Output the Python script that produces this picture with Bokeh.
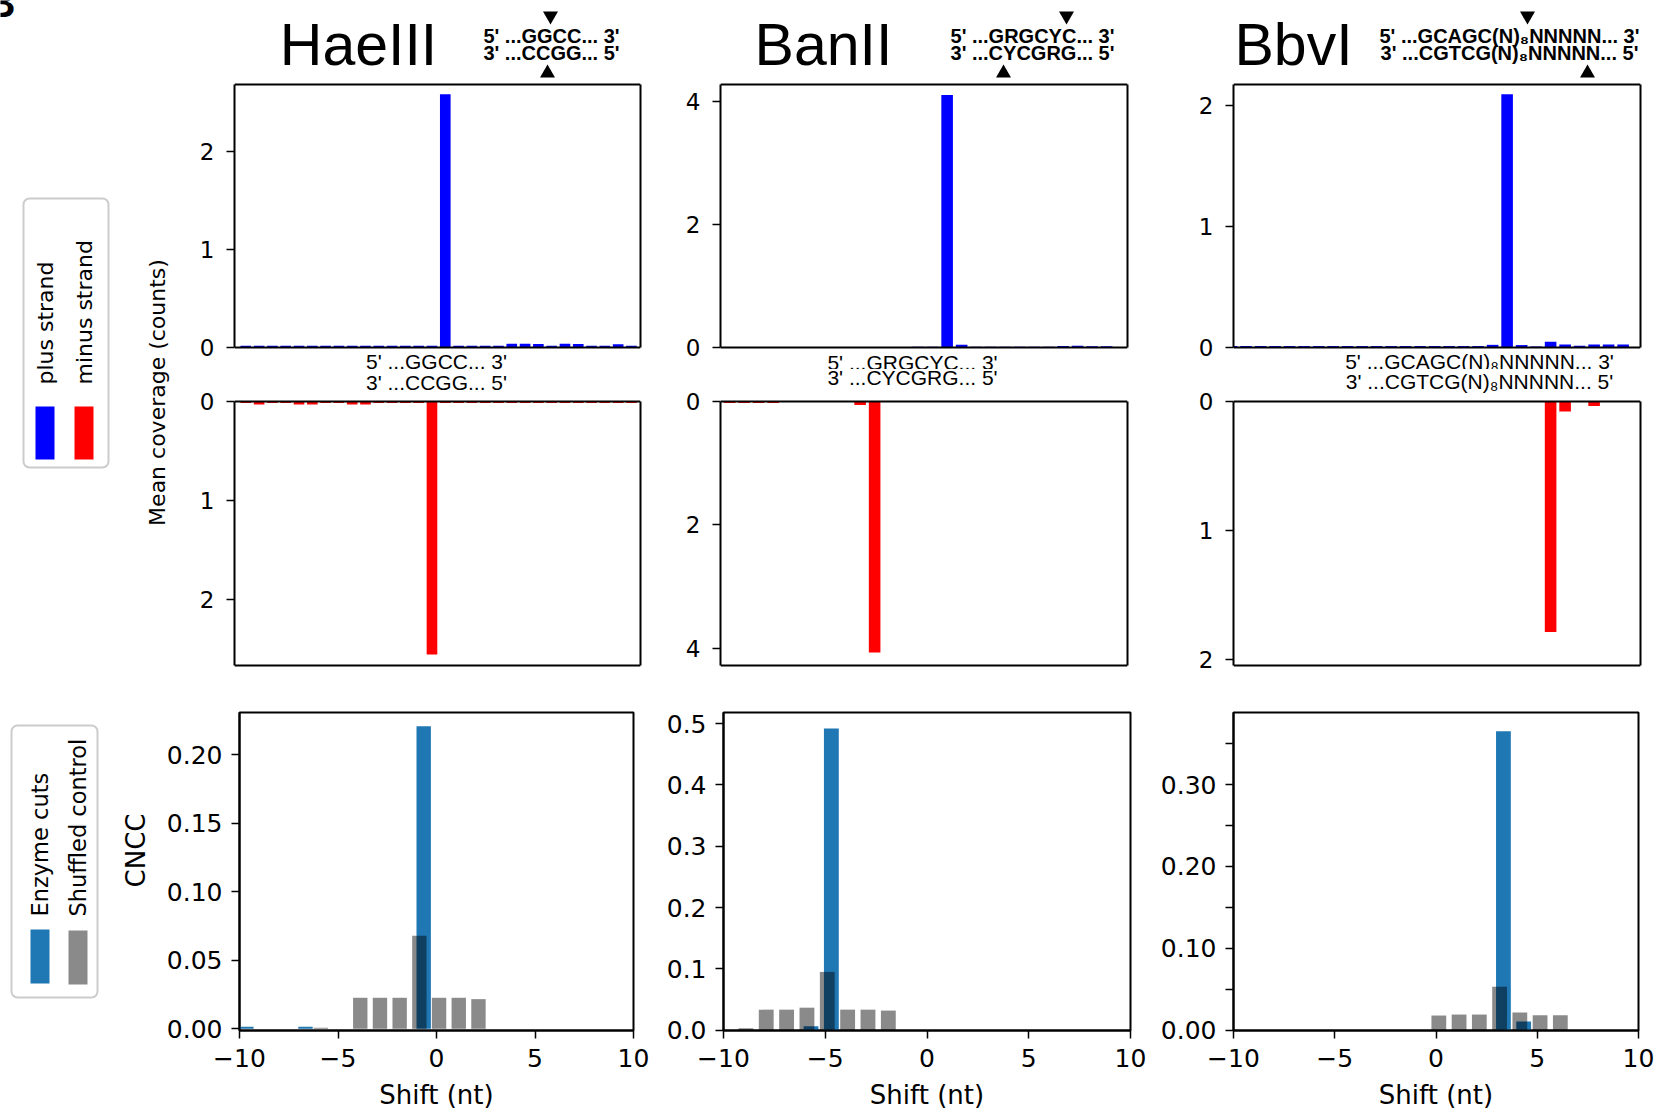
import math
from bokeh.plotting import figure
from bokeh.models import (Range1d, FixedTicker, Label, BoxAnnotation, PolyAnnotation,
                          Span, LinearAxis)
from bokeh.layouts import row, column
from bokeh.embed import file_html
from bokeh.resources import INLINE

# ---------------- data ----------------
enzymes = ["HaeIII", "BanII", "BbvI"]
site_top = ["5' ...GGCC... 3'", "5' ...GRGCYC... 3'", "5' ...GCAGC(N)\u2088NNNNN... 3'"]
site_bot = ["3' ...CCGG... 5'", "3' ...CYCGRG... 5'", "3' ...CGTCG(N)\u2088NNNNN... 5'"]

hae_pos = list(range(30))
hae_plus = [0.018, 0.018, 0.018, 0.018, 0.018, 0.018, 0.018, 0.018, 0.018, 0.018,
            0.018, 0.018, 0.018, 0.018, 0.018, 2.59, 0.018, 0.018, 0.018, 0.018,
            0.038, 0.038, 0.035, 0.018, 0.038, 0.035, 0.018, 0.018, 0.032, 0.018]
hae_minus = [0.016, 0.03, 0.016, 0.016, 0.03, 0.03, 0.016, 0.016, 0.03, 0.03,
             0.016, 0.016, 0.016, 0.016, 2.56, 0.016, 0.016, 0.016, 0.016, 0.016,
             0.016, 0.016, 0.016, 0.016, 0.016, 0.016, 0.016, 0.016, 0.016, 0.016]

ban_pos = list(range(28))
ban_plus = [0.0, 0.0, 0.0, 0.0, 0.0, 0.0, 0.0, 0.0, 0.0, 0.0,
            0.0, 0.0, 0.0, 0.012, 0.012, 4.10, 0.045, 0.012, 0.012, 0.012,
            0.012, 0.012, 0.012, 0.025, 0.028, 0.02, 0.02, 0.0]
ban_minus = [0.025, 0.025, 0.025, 0.025, 0.006, 0.006, 0.006, 0.006, 0.006, 0.055,
             4.07, 0.006, 0.006, 0.006, 0.006, 0.006, 0.006, 0.006, 0.006, 0.006,
             0.006, 0.006, 0.006, 0.006, 0.006, 0.006, 0.006, 0.0]

bbv_pos = list(range(28))
bbv_plus = [0.012, 0.012, 0.012, 0.012, 0.012, 0.012, 0.012, 0.012, 0.012, 0.012,
            0.012, 0.012, 0.012, 0.012, 0.012, 0.012, 0.012, 0.012, 0.022, 2.09,
            0.02, 0.008, 0.048, 0.025, 0.015, 0.025, 0.025, 0.025]
bbv_minus = [0.004, 0.004, 0.004, 0.004, 0.004, 0.004, 0.004, 0.004, 0.004, 0.004,
             0.004, 0.004, 0.004, 0.004, 0.004, 0.004, 0.004, 0.004, 0.004, 0.004,
             0.004, 0.004, 1.79, 0.078, 0.004, 0.034, 0.004, 0.004]

top_ticks = [[0, 1, 2], [0, 2, 4], [0, 1, 2]]

shift_ticks = [-10, -5, 0, 5, 10]
shift_labels = ["\u221210", "\u22125", "0", "5", "10"]
hae_cut_shift = [-9.65, -6.65, -0.65]
hae_cut_cncc = [0.0015, 0.0015, 0.221]
hae_ctrl_shift = [-5.87, -3.87, -2.87, -1.87, -0.87, 0.13, 1.13, 2.13]
hae_ctrl_cncc = [0.0008, 0.0227, 0.0227, 0.0227, 0.068, 0.0227, 0.0227, 0.0217]
ban_cut_shift = [-5.7, -4.7]
ban_cut_cncc = [0.0065, 0.492]
ban_ctrl_shift = [-8.9, -7.9, -6.9, -5.9, -4.9, -3.9, -2.9, -1.9]
ban_ctrl_cncc = [0.003, 0.0335, 0.0335, 0.0367, 0.095, 0.0335, 0.0335, 0.032]
bbv_cut_shift = [3.33, 4.33]
bbv_cut_cncc = [0.365, 0.0106]
bbv_ctrl_shift = [0.14, 1.14, 2.14, 3.14, 4.14, 5.14, 6.14]
bbv_ctrl_cncc = [0.0178, 0.019, 0.019, 0.053, 0.0215, 0.018, 0.018]

hae_cncc_ticks = [0.0, 0.05, 0.1, 0.15, 0.2]
hae_cncc_labels = ["0.00", "0.05", "0.10", "0.15", "0.20"]
ban_cncc_ticks = [0.0, 0.1, 0.2, 0.3, 0.4, 0.5]
ban_cncc_labels = ["0.0", "0.1", "0.2", "0.3", "0.4", "0.5"]
bbv_cncc_ticks = [0.0, 0.05, 0.1, 0.15, 0.2, 0.25, 0.3, 0.35]
bbv_cncc_labels = ["0.00", "", "0.10", "", "0.20", "", "0.30", ""]

legend_strand = ["plus strand", "minus strand"]
legend_cncc = ["Enzyme cuts", "Shuffled control"]

PLUS = "#0000ff"
MINUS = "#ff0000"
CUT = "#1f77b4"


# ---------------- geometry helpers ----------------
class Geo:
    def __init__(self, x0, y0, w, h, bl, br, bt, bb, xr, yr):
        self.x0, self.y0, self.w, self.h = x0, y0, w, h
        self.bl, self.br, self.bt, self.bb = bl, br, bt, bb
        self.xr, self.yr = xr, yr

    def X(self, px):
        fw = self.w - self.bl - self.br
        return self.xr[0] + (px - self.x0 - self.bl) / fw * (self.xr[1] - self.xr[0])

    def Y(self, py):
        fh = self.h - self.bt - self.bb
        ftop = self.y0 + self.bt
        return self.yr[1] - (py - ftop) / fh * (self.yr[1] - self.yr[0])


def base_fig(g, xaxis=True, yaxis=True):
    p = figure(width=g.w, height=g.h, x_range=Range1d(*g.xr), y_range=Range1d(*g.yr),
               min_border_left=g.bl, min_border_right=g.br,
               min_border_top=g.bt, min_border_bottom=g.bb,
               x_axis_location="below" if xaxis else None,
               y_axis_location="left" if yaxis else None,
               output_backend="svg", toolbar_location=None, tools="")
    try:
        p.frame_align = False
    except Exception:
        pass
    if p.title is not None:
        p.title.visible = False
    p.grid.visible = False
    p.background_fill_color = "white"
    p.border_fill_color = "white"
    return p


def style_axis(ax, size, tick_out, standoff):
    ax.axis_line_color = "black"
    ax.axis_line_width = 2
    ax.major_tick_line_color = "black"
    ax.major_tick_line_width = 1.5
    ax.major_tick_in = 0
    ax.major_tick_out = tick_out
    ax.minor_tick_line_color = None
    ax.major_label_text_font = "DejaVu Sans"
    ax.major_label_text_font_size = size
    ax.major_label_text_color = "black"
    ax.major_label_standoff = standoff


def outline(p):
    p.outline_line_color = "black"
    p.outline_line_width = 2
    p.outline_line_alpha = 1


def text(p, g, X, Y, s, size, font="DejaVu Sans", style="normal", align="center",
         baseline="middle", angle=0.0):
    p.add_layout(Label(x=g.X(X), y=g.Y(Y), text=s, text_font=font,
                       text_font_size=f"{size}px", text_font_style=style,
                       text_align=align, text_baseline=baseline, angle=angle,
                       text_color="black"))


def tri(p, g, cx, y_top, y_bot, down):
    hw = 7.5
    if down:
        pts = [(cx - hw, y_top), (cx + hw, y_top), (cx, y_bot)]
    else:
        pts = [(cx, y_top), (cx + hw, y_bot), (cx - hw, y_bot)]
    p.add_layout(PolyAnnotation(xs=[g.X(a) for a, b in pts], ys=[g.Y(b) for a, b in pts],
                                fill_color="black", fill_alpha=1, line_color=None))


def box(p, g, l, r, t, b, fill, alpha=1.0, line=None, radius=0):
    kw = dict(left=g.X(l), right=g.X(r), top=g.Y(t), bottom=g.Y(b),
              fill_color=fill, fill_alpha=alpha)
    if line:
        kw.update(line_color=line, line_width=2, line_alpha=1)
    else:
        kw.update(line_color=None)
    if radius:
        kw.update(border_radius=radius)
    p.add_layout(BoxAnnotation(**kw))


def canvas(x0, y0, w, h):
    g = Geo(x0, y0, w, h, 0, 0, 0, 0, (x0, x0 + w), (0, h))
    p = base_fig(g, xaxis=False, yaxis=False)
    p.outline_line_color = None
    return g, p


def strand_panel(x0, w, bl, br, y0, h, bt, bb, vtop, vbot, val_top, val_bot, xr,
                 pos, vals, color, ticks):
    """Panel whose Bokeh frame is taller than the drawn box (room for site labels)."""
    ftop, fbot = y0 + bt, y0 + h - bb
    k = (val_bot - val_top) / (vbot - vtop)
    yr = (val_top + (fbot - vtop) * k, val_top + (ftop - vtop) * k)
    g = Geo(x0, y0, w, h, bl, br, bt, bb, xr, yr)
    p = base_fig(g, xaxis=False)
    p.outline_line_color = None
    p.vbar(x=pos, top=vals, bottom=0, width=0.8, fill_color=color, line_color=None)
    lo, hi = min(val_top, val_bot), max(val_top, val_bot)
    p.yaxis.ticker = FixedTicker(ticks=ticks, minor_ticks=[])
    p.yaxis.bounds = (lo, hi)
    style_axis(p.yaxis[0], "23px", 8, 12)
    rax = LinearAxis(ticker=FixedTicker(ticks=[], minor_ticks=[]), bounds=(lo, hi))
    style_axis(rax, "0px", 0, 0)
    p.add_layout(rax, "right")
    for loc in (lo, hi):
        p.add_layout(Span(location=loc, dimension="width", line_color="black",
                          line_width=2))
    return g, p


# ---------------- page layout (page pixels) ----------------
A_Y0, A_H = 82, 287          # page y 82..369
A_VTOP, A_VBOT = 84, 347     # drawn box of the plus-strand panels
B_Y0, B_H, B_BB = 369, 321, 23   # page y 369..690, frame to 667
B_VTOP, B_VBOT = 401, 665    # drawn box of the minus-strand panels
C_Y0, C_H, C_BT, C_BB = 690, 422, 22, 81

col_x = [(175, 505, 59, 40), (680, 510, 40, 63), (1190, 472, 43, 22)]
top_xr = [(-0.85, 29.68), (-0.63, 27.44), (0.13, 28.2)]
top_ymax = [2.69, 4.27, 2.17]
mid_ymax = [2.67, 4.28, 2.05]

pos_list = [hae_pos, ban_pos, bbv_pos]
plus_list = [hae_plus, ban_plus, bbv_plus]
minus_list = [hae_minus, ban_minus, bbv_minus]

title_x = [358, 823, 1293]
header_x = [551, 1032, 1509]
tri_down_x = [550, 1066, 1527]
tri_up_x = [547, 1003, 1587]
mid_x = [436, 912, 1479]
mid_mid = [(360.5, 381.5), (361.5, 376.5), (360.5, 380.5)]

# header strip with enzyme names and recognition sites
gH, pH = canvas(175, 0, 1487, 82)
for i in range(3):
    text(pH, gH, title_x[i], 44.5, enzymes[i], 59, font="Liberation Sans")
    text(pH, gH, header_x[i], 35.5, site_top[i], 20, font="Liberation Sans", style="bold")
    text(pH, gH, header_x[i], 52, site_bot[i], 20, font="Liberation Sans", style="bold")
    tri(pH, gH, tri_down_x[i], 11, 24, True)
    tri(pH, gH, tri_up_x[i], 64, 77, False)

row_a, row_b = [], []
for i in range(3):
    x0, w, bl, br = col_x[i]
    ga, pa = strand_panel(x0, w, bl, br, A_Y0, A_H, 0, 0, A_VTOP, A_VBOT,
                          top_ymax[i], 0, top_xr[i], pos_list[i], plus_list[i], PLUS,
                          top_ticks[i])
    text(pa, ga, mid_x[i], mid_mid[i][0], site_top[i], 21, font="Liberation Sans")
    row_a.append(pa)

    gb, pb = strand_panel(x0, w, bl, br, B_Y0, B_H, 0, B_BB, B_VTOP, B_VBOT,
                          0, mid_ymax[i], top_xr[i], pos_list[i], minus_list[i], MINUS,
                          top_ticks[i])
    text(pb, gb, mid_x[i], mid_mid[i][1], site_bot[i], 21, font="Liberation Sans")
    row_b.append(pb)

# left canvas for the upper two rows
gL, pL = canvas(0, 0, 175, 690)
text(pL, gL, -14, 2, "B", 40, font="Liberation Sans", style="bold", align="left")
box(pL, gL, 23, 108, 198, 467, "white", line="#cccccc", radius=6)
box(pL, gL, 35, 54, 406, 459, PLUS)
box(pL, gL, 74, 93, 406, 459, MINUS)
text(pL, gL, 44.5, 384, legend_strand[0], 22, align="left", angle=math.pi / 2)
text(pL, gL, 83.5, 384, legend_strand[1], 22, align="left", angle=math.pi / 2)
text(pL, gL, 157, 392, "Mean coverage (counts)", 22, align="center", angle=math.pi / 2)

# bottom row
c_cols = [(160, 495, 79, 22), (655, 495, 68, 20), (1150, 512, 83, 24)]
c_yr = [(-0.0012, 0.231), (-0.0005, 0.518), (-0.0005, 0.388)]
cut_x = [hae_cut_shift, ban_cut_shift, bbv_cut_shift]
cut_y = [hae_cut_cncc, ban_cut_cncc, bbv_cut_cncc]
ctrl_x = [hae_ctrl_shift, ban_ctrl_shift, bbv_ctrl_shift]
ctrl_y = [hae_ctrl_cncc, ban_ctrl_cncc, bbv_ctrl_cncc]
c_ticks = [hae_cncc_ticks, ban_cncc_ticks, bbv_cncc_ticks]
c_labels = [hae_cncc_labels, ban_cncc_labels, bbv_cncc_labels]

row_c = []
gC, pC = canvas(0, C_Y0, 160, C_H)
box(pC, gC, 11, 97, 725, 997, "white", line="#cccccc", radius=6)
box(pC, gC, 30, 49, 929, 983, CUT)
box(pC, gC, 68, 87, 930, 984, "black", alpha=0.46)
text(pC, gC, 39, 916, legend_cncc[0], 22.5, align="left", angle=math.pi / 2)
text(pC, gC, 77, 916, legend_cncc[1], 22.5, align="left", angle=math.pi / 2)
text(pC, gC, 135, 850, "CNCC", 26, align="center", angle=math.pi / 2)
row_c.append(pC)

for i in range(3):
    x0, w, bl, br = c_cols[i]
    g = Geo(x0, C_Y0, w, C_H, bl, br, C_BT, C_BB, (-10, 10), c_yr[i])
    p = base_fig(g)
    p.vbar(x=cut_x[i], top=cut_y[i], bottom=0, width=0.73, fill_color=CUT, line_color=None)
    p.vbar(x=ctrl_x[i], top=ctrl_y[i], bottom=0, width=0.73, fill_color="black",
           fill_alpha=0.46, line_color=None)
    p.xaxis.ticker = FixedTicker(ticks=shift_ticks, minor_ticks=[])
    p.xaxis.major_label_overrides = dict(zip(shift_ticks, shift_labels))
    p.yaxis.ticker = FixedTicker(ticks=c_ticks[i], minor_ticks=[])
    p.yaxis.major_label_overrides = dict(zip(c_ticks[i], c_labels[i]))
    style_axis(p.xaxis[0], "25px", 8, 10)
    style_axis(p.yaxis[0], "25px", 8, 9)
    p.xaxis.axis_label = "Shift (nt)"
    p.xaxis.axis_label_text_font = "DejaVu Sans"
    p.xaxis.axis_label_text_font_size = "26px"
    p.xaxis.axis_label_text_font_style = "normal"
    p.xaxis.axis_label_text_color = "black"
    p.xaxis.axis_label_standoff = 10
    outline(p)
    row_c.append(p)

layout = column(
    row(pL, column(pH, row(*row_a), row(*row_b))),
    row(*row_c),
)

open("out.html", "w").write(file_html(layout, INLINE))
